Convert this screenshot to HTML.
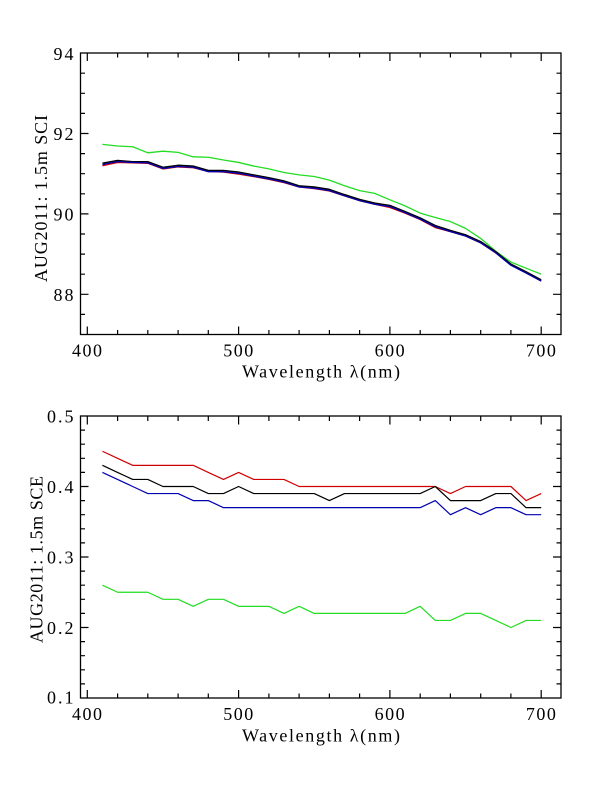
<!DOCTYPE html>
<html>
<head>
<meta charset="utf-8">
<style>
  html, body { margin: 0; padding: 0; background: #fff; }
  body { width: 612px; height: 792px; overflow: hidden; }
  svg { display: block; }
  text { font-family: "Liberation Serif", "DejaVu Serif", serif; font-size: 18px; fill: #000; }
</style>
</head>
<body>
<svg width="612" height="792" viewBox="0 0 612 792" xmlns="http://www.w3.org/2000/svg">
  <rect x="0" y="0" width="612" height="792" fill="#fff"/>

  <!-- ================= TOP PLOT ================= -->
  <rect x="80.5" y="53" width="480.5" height="281.5" fill="none" stroke="#000" stroke-width="1.3"/>
  <path id="xt" fill="none" stroke="#000" stroke-width="1.2" d="
    M87.3 334.5v-8M238.6 334.5v-8M389.9 334.5v-8M541.2 334.5v-8
    M87.3 53v8M238.6 53v8M389.9 53v8M541.2 53v8
    M117.6 334.5v-4.5M147.8 334.5v-4.5M178.1 334.5v-4.5M208.3 334.5v-4.5
    M268.9 334.5v-4.5M299.1 334.5v-4.5M329.4 334.5v-4.5M359.6 334.5v-4.5
    M420.2 334.5v-4.5M450.4 334.5v-4.5M480.7 334.5v-4.5M510.9 334.5v-4.5
    M117.6 53v4.5M147.8 53v4.5M178.1 53v4.5M208.3 53v4.5
    M268.9 53v4.5M299.1 53v4.5M329.4 53v4.5M359.6 53v4.5
    M420.2 53v4.5M450.4 53v4.5M480.7 53v4.5M510.9 53v4.5"/>
  <path fill="none" stroke="#000" stroke-width="1.2" d="
    M80.5 294.3h8M80.5 213.9h8M80.5 133.5h8
    M561 294.3h-8M561 213.9h-8M561 133.5h-8
    M80.5 314.4h4.5M80.5 274.2h4.5M80.5 254.1h4.5M80.5 234h4.5M80.5 193.8h4.5
    M80.5 173.7h4.5M80.5 153.6h4.5M80.5 113.4h4.5M80.5 93.3h4.5M80.5 73.2h4.5
    M561 314.4h-4.5M561 274.2h-4.5M561 254.1h-4.5M561 234h-4.5M561 193.8h-4.5
    M561 173.7h-4.5M561 153.6h-4.5M561 113.4h-4.5M561 93.3h-4.5M561 73.2h-4.5"/>

  <g transform="translate(87.3 334.5) scale(1.513 -40.2) translate(-400 -87)" fill="none" stroke-linejoin="round">
    <polyline vector-effect="non-scaling-stroke" stroke="#22dd22" stroke-width="1.3" points="
      410,91.73 420,91.69 430,91.67 440,91.52 450,91.56 460,91.53 470,91.42 480,91.41 490,91.34 500,91.28
      510,91.19 520,91.12 530,91.03 540,90.97 550,90.93 560,90.84 570,90.70 580,90.58 590,90.51 600,90.35
      610,90.20 620,90.02 630,89.91 640,89.81 650,89.64 660,89.39 670,89.07 680,88.80 690,88.65 700,88.50"/>
    <polyline vector-effect="non-scaling-stroke" stroke="#d00000" stroke-width="1.4" points="
      410,91.20 420,91.28 430,91.27 440,91.26 450,91.12 460,91.17 470,91.15 480,91.06 490,91.04 500,90.99
      510,90.93 520,90.86 530,90.78 540,90.67 550,90.63 560,90.57 570,90.45 580,90.33 590,90.24 600,90.16
      610,90.02 620,89.86 630,89.66 640,89.56 650,89.45 660,89.28 670,89.03 680,88.73 690,88.54 700,88.33"/>
    <polyline vector-effect="non-scaling-stroke" stroke="#000000" stroke-width="1.4" points="
      410,91.26 420,91.33 430,91.30 440,91.30 450,91.16 460,91.21 470,91.19 480,91.08 490,91.08 500,91.04
      510,90.97 520,90.90 530,90.82 540,90.70 550,90.67 560,90.61 570,90.48 580,90.36 590,90.27 600,90.21
      610,90.06 620,89.90 630,89.71 640,89.59 650,89.48 660,89.31 670,89.06 680,88.75 690,88.56 700,88.36"/>
    <polyline vector-effect="non-scaling-stroke" stroke="#0000b0" stroke-width="1.3" points="
      410,91.23 420,91.30 430,91.28 440,91.27 450,91.13 460,91.18 470,91.16 480,91.05 490,91.05 500,91.01
      510,90.94 520,90.87 530,90.79 540,90.67 550,90.64 560,90.58 570,90.45 580,90.33 590,90.24 600,90.18
      610,90.03 620,89.87 630,89.68 640,89.56 650,89.45 660,89.28 670,89.03 680,88.72 690,88.53 700,88.33"/>
  </g>

  <text x="73.5" y="60" text-anchor="end" textLength="20">94</text>
  <text x="73.5" y="140" text-anchor="end" textLength="20">92</text>
  <text x="73.5" y="220.4" text-anchor="end" textLength="20">90</text>
  <text x="73.5" y="300.8" text-anchor="end" textLength="20">88</text>

  <text x="87" y="356.5" text-anchor="middle" textLength="30">400</text>
  <text x="238.3" y="356.5" text-anchor="middle" textLength="30">500</text>
  <text x="389.6" y="356.5" text-anchor="middle" textLength="30">600</text>
  <text x="540.9" y="356.5" text-anchor="middle" textLength="30">700</text>

  <text x="321" y="377.5" text-anchor="middle" textLength="158" lengthAdjust="spacing">Wavelength λ(nm)</text>
  <text transform="translate(47 282) rotate(-90)" x="0" y="0" textLength="167" lengthAdjust="spacing">AUG2011: 1.5m SCI</text>

  <!-- ================= BOTTOM PLOT ================= -->
  <rect x="80.5" y="416" width="480.5" height="282" fill="none" stroke="#000" stroke-width="1.3"/>
  <use href="#xt" transform="translate(0 363.5)"/>
  <path fill="none" stroke="#000" stroke-width="1.2" d="
    M80.5 627.5h8M80.5 557h8M80.5 486.5h8
    M561 627.5h-8M561 557h-8M561 486.5h-8
    M80.5 683.9h4.5M80.5 669.8h4.5M80.5 655.7h4.5M80.5 641.6h4.5
    M80.5 613.4h4.5M80.5 599.3h4.5M80.5 585.2h4.5M80.5 571.1h4.5
    M80.5 542.9h4.5M80.5 528.8h4.5M80.5 514.7h4.5M80.5 500.6h4.5
    M80.5 472.4h4.5M80.5 458.3h4.5M80.5 444.2h4.5M80.5 430.1h4.5
    M561 683.9h-4.5M561 669.8h-4.5M561 655.7h-4.5M561 641.6h-4.5
    M561 613.4h-4.5M561 599.3h-4.5M561 585.2h-4.5M561 571.1h-4.5
    M561 542.9h-4.5M561 528.8h-4.5M561 514.7h-4.5M561 500.6h-4.5
    M561 472.4h-4.5M561 458.3h-4.5M561 444.2h-4.5M561 430.1h-4.5"/>

  <g transform="translate(87.3 698) scale(1.513 -705) translate(-400 -0.1)" fill="none" stroke-linejoin="round">
    <polyline vector-effect="non-scaling-stroke" stroke="#d00000" stroke-width="1.2" points="
      410,0.45 420,0.44 430,0.43 440,0.43 450,0.43 460,0.43 470,0.43 480,0.42 490,0.41 500,0.42
      510,0.41 520,0.41 530,0.41 540,0.40 550,0.40 560,0.40 570,0.40 580,0.40 590,0.40 600,0.40
      610,0.40 620,0.40 630,0.40 640,0.39 650,0.40 660,0.40 670,0.40 680,0.40 690,0.38 700,0.39"/>
    <polyline vector-effect="non-scaling-stroke" stroke="#000000" stroke-width="1.2" points="
      410,0.43 420,0.42 430,0.41 440,0.41 450,0.40 460,0.40 470,0.40 480,0.39 490,0.39 500,0.40
      510,0.39 520,0.39 530,0.39 540,0.39 550,0.39 560,0.38 570,0.39 580,0.39 590,0.39 600,0.39
      610,0.39 620,0.39 630,0.40 640,0.38 650,0.38 660,0.38 670,0.39 680,0.39 690,0.37 700,0.37"/>
    <polyline vector-effect="non-scaling-stroke" stroke="#0000b0" stroke-width="1.2" points="
      410,0.42 420,0.41 430,0.40 440,0.39 450,0.39 460,0.39 470,0.38 480,0.38 490,0.37 500,0.37
      510,0.37 520,0.37 530,0.37 540,0.37 550,0.37 560,0.37 570,0.37 580,0.37 590,0.37 600,0.37
      610,0.37 620,0.37 630,0.38 640,0.36 650,0.37 660,0.36 670,0.37 680,0.37 690,0.36 700,0.36"/>
    <polyline vector-effect="non-scaling-stroke" stroke="#22dd22" stroke-width="1.2" points="
      410,0.26 420,0.25 430,0.25 440,0.25 450,0.24 460,0.24 470,0.23 480,0.24 490,0.24 500,0.23
      510,0.23 520,0.23 530,0.22 540,0.23 550,0.22 560,0.22 570,0.22 580,0.22 590,0.22 600,0.22
      610,0.22 620,0.23 630,0.21 640,0.21 650,0.22 660,0.22 670,0.21 680,0.20 690,0.21 700,0.21"/>
  </g>

  <text x="73.5" y="422.5" text-anchor="end" textLength="26.5">0.5</text>
  <text x="73.5" y="493" text-anchor="end" textLength="26.5">0.4</text>
  <text x="73.5" y="563.5" text-anchor="end" textLength="26.5">0.3</text>
  <text x="73.5" y="634" text-anchor="end" textLength="26.5">0.2</text>
  <text x="73.5" y="703.5" text-anchor="end" textLength="26.5">0.1</text>

  <text x="87" y="720" text-anchor="middle" textLength="30">400</text>
  <text x="238.3" y="720" text-anchor="middle" textLength="30">500</text>
  <text x="389.6" y="720" text-anchor="middle" textLength="30">600</text>
  <text x="540.9" y="720" text-anchor="middle" textLength="30">700</text>

  <text x="321" y="741.5" text-anchor="middle" textLength="158" lengthAdjust="spacing">Wavelength λ(nm)</text>
  <text transform="translate(42.5 643) rotate(-90)" x="0" y="0" textLength="167" lengthAdjust="spacing">AUG2011: 1.5m SCE</text>
</svg>
</body>
</html>
